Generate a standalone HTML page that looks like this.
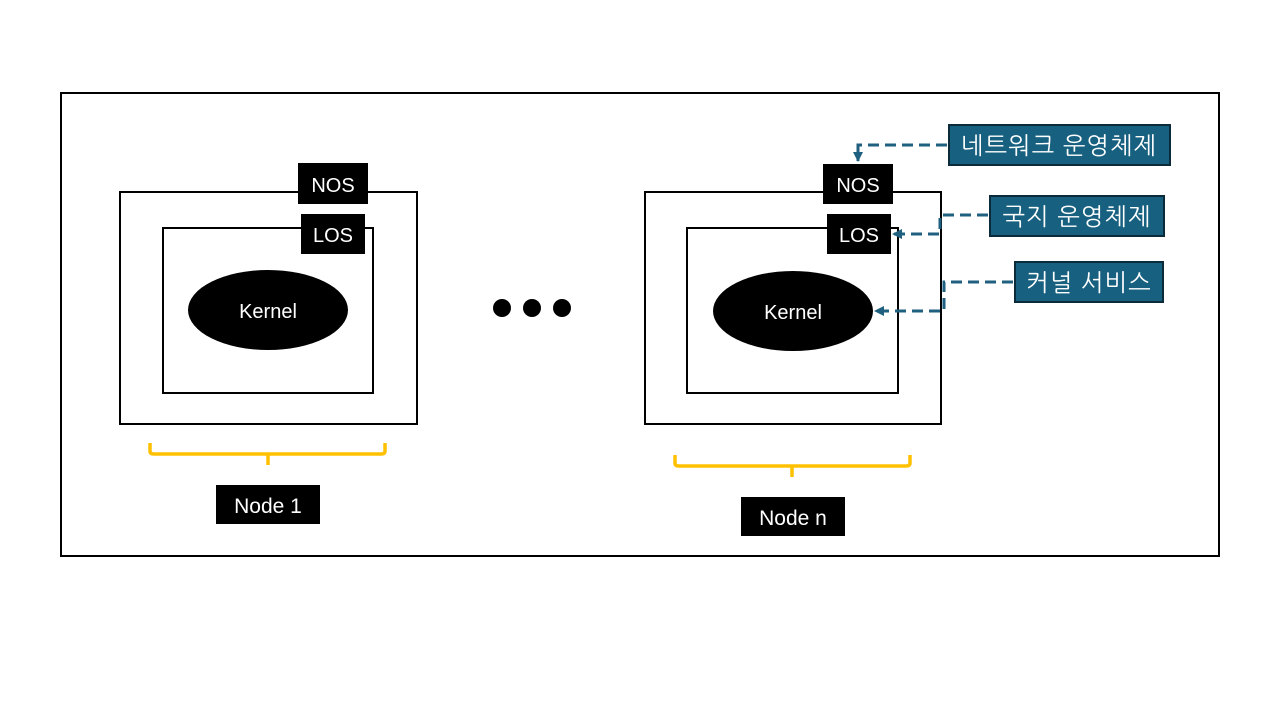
<!DOCTYPE html>
<html><head><meta charset="utf-8"><style>
html,body{margin:0;padding:0;background:#fff;}
svg{display:block;}
text{font-family:"Liberation Sans","NanumGothic","Noto Sans CJK KR",sans-serif;}
</style></head><body>
<svg width="1280" height="720" viewBox="0 0 1280 720" xmlns="http://www.w3.org/2000/svg">
<defs>
<marker id="ar" markerWidth="12" markerHeight="12" refX="9" refY="6" orient="auto" markerUnits="userSpaceOnUse">
<path d="M0,1 L10,6 L0,11 z" fill="#1f5f7f"/>
</marker>
</defs>
<rect x="61" y="93" width="1158" height="463" fill="none" stroke="#000" stroke-width="2"/>

<rect x="120" y="192" width="297" height="232" fill="none" stroke="#000" stroke-width="2"/>
<rect x="163" y="228" width="210" height="165" fill="none" stroke="#000" stroke-width="2"/>
<rect x="298" y="163" width="70" height="41" fill="#000"/>
<text x="333" y="192" font-size="20" fill="#fff" text-anchor="middle">NOS</text>
<rect x="301" y="214" width="64" height="40" fill="#000"/>
<text x="333" y="242" font-size="20" fill="#fff" text-anchor="middle">LOS</text>
<ellipse cx="268" cy="310" rx="80" ry="40" fill="#000"/>
<text x="268" y="318" font-size="20" fill="#fff" text-anchor="middle">Kernel</text>

<circle cx="502" cy="308" r="9" fill="#000"/>
<circle cx="532" cy="308" r="9" fill="#000"/>
<circle cx="562" cy="308" r="9" fill="#000"/>

<rect x="645" y="192" width="296" height="232" fill="none" stroke="#000" stroke-width="2"/>
<rect x="687" y="228" width="211" height="165" fill="none" stroke="#000" stroke-width="2"/>
<rect x="823" y="164" width="70" height="40" fill="#000"/>
<text x="858" y="192" font-size="20" fill="#fff" text-anchor="middle">NOS</text>
<rect x="827" y="214" width="64" height="40" fill="#000"/>
<text x="859" y="242" font-size="20" fill="#fff" text-anchor="middle">LOS</text>
<ellipse cx="793" cy="311" rx="80" ry="40" fill="#000"/>
<text x="793" y="319" font-size="20" fill="#fff" text-anchor="middle">Kernel</text>

<rect x="949" y="125" width="221" height="40" fill="#17607f" stroke="#0b2a3a" stroke-width="2"/>
<text x="1059" y="154" font-size="24" letter-spacing="1" fill="#fff" text-anchor="middle">네트워크 운영체제</text>
<rect x="990" y="196" width="174" height="40" fill="#17607f" stroke="#0b2a3a" stroke-width="2"/>
<text x="1077" y="225" font-size="24" letter-spacing="1" fill="#fff" text-anchor="middle">국지 운영체제</text>
<rect x="1015" y="262" width="148" height="40" fill="#17607f" stroke="#0b2a3a" stroke-width="2"/>
<text x="1089" y="291" font-size="24" letter-spacing="1" fill="#fff" text-anchor="middle">커널 서비스</text>

<g fill="none" stroke="#1f5f7f" stroke-width="3" stroke-dasharray="11,6">
<path d="M947,145 L858,145 L858,161" marker-end="url(#ar)"/>
<path d="M988,215 L940,215 L940,234 L893,234" marker-end="url(#ar)"/>
<path d="M1013,282 L944,282 L944,311 L875,311" marker-end="url(#ar)"/>
</g>

<g fill="none" stroke="#ffc000" stroke-width="3.5" stroke-linejoin="round">
<path d="M150,443 L150,451 Q150,454 154,454 L381,454 Q385,454 385,451 L385,443"/>
<path d="M268,454 L268,465"/>
<path d="M675,455 L675,463 Q675,466 679,466 L906,466 Q910,466 910,463 L910,455"/>
<path d="M792,466 L792,477"/>
</g>

<rect x="216" y="485" width="104" height="39" fill="#000"/>
<text x="268" y="513" font-size="21" fill="#fff" text-anchor="middle">Node 1</text>
<rect x="741" y="497" width="104" height="39" fill="#000"/>
<text x="793" y="525" font-size="21" fill="#fff" text-anchor="middle">Node n</text>
</svg>
</body></html>
